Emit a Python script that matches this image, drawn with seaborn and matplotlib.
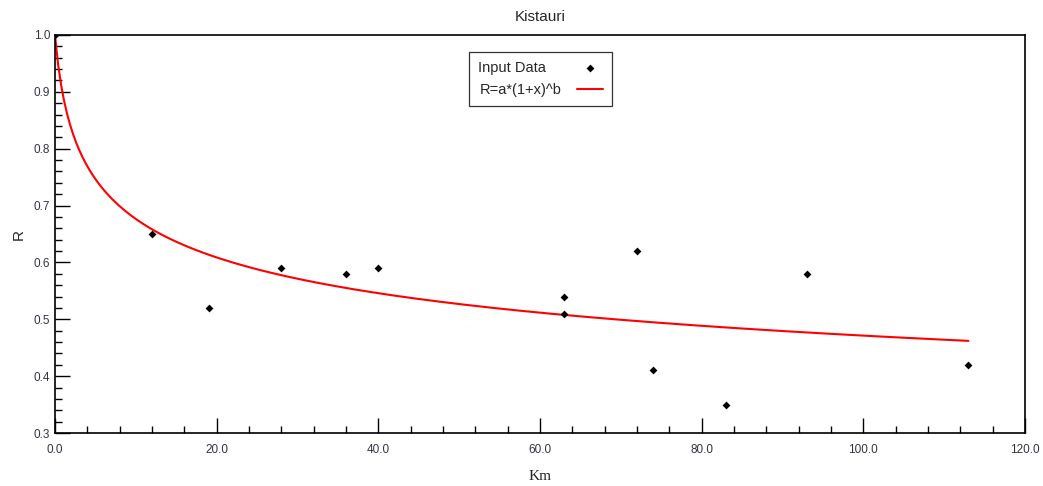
import numpy as np
import pandas as pd
import matplotlib
matplotlib.use('Agg')
import matplotlib.pyplot as plt
import seaborn as sns
from matplotlib.ticker import MultipleLocator, FormatStrFormatter

# input data
km = [0, 12, 19, 28, 36, 40, 63, 63, 72, 74, 83, 93, 113]
r_vals = [1.0, 0.65, 0.52, 0.59, 0.58, 0.59, 0.54, 0.51, 0.62, 0.41, 0.35, 0.58, 0.42]

# fitted model R = a*(1+x)^b
a_coef = 1.0
b_coef = -0.163

data = pd.DataFrame({'Km': km, 'R': r_vals})
x_fit = np.linspace(0, max(km), 300)
fit = pd.DataFrame({'Km': x_fit, 'R': a_coef * (1 + x_fit) ** b_coef})

sns.set_style('white')
plt.rcParams['font.family'] = ['Liberation Sans', 'DejaVu Sans']

fig = plt.figure(figsize=(10.43, 4.86), dpi=100)
ax = fig.add_axes([0.0527, 0.109, 0.930, 0.819])

# trailing spaces so both legend labels have the same width (keeps them left aligned)
sns.scatterplot(data=data, x='Km', y='R', ax=ax, color='black', marker='D', s=16,
                edgecolor='black', linewidth=0, label='Input Data    ', zorder=3)
sns.lineplot(data=fit, x='Km', y='R', ax=ax, color='#ff0000', linewidth=1.5,
             label='R=a*(1+x)^b', zorder=2)

ax.set_xlim(0, 120)
ax.set_ylim(0.3, 1.0)
ax.xaxis.set_major_locator(MultipleLocator(20))
ax.xaxis.set_minor_locator(MultipleLocator(4))
ax.yaxis.set_major_locator(MultipleLocator(0.1))
ax.yaxis.set_minor_locator(MultipleLocator(0.02))
ax.xaxis.set_major_formatter(FormatStrFormatter('%.1f'))
ax.yaxis.set_major_formatter(FormatStrFormatter('%.1f'))

ax.tick_params(axis='both', which='both', direction='in', colors='black',
               labelcolor='#333344', labelsize=8.5, width=1,
               bottom=True, left=True, top=False, right=False)
ax.tick_params(which='major', length=11)
ax.tick_params(which='minor', length=5)
ax.tick_params(axis='x', which='both', pad=8)

for s in ax.spines.values():
    s.set_color('black')
    s.set_linewidth(1.2)

ax.set_title('Kistauri', fontsize=11, pad=10)
ax.set_xlabel('Km', fontsize=11, family='Liberation Serif', labelpad=10)
ax.set_ylabel('R', fontsize=11, labelpad=6)

leg = ax.legend(loc='upper left', bbox_to_anchor=(0.4268, 0.957), borderaxespad=0,
                markerfirst=False, frameon=True, fancybox=False, fontsize=10.5,
                handlelength=1.8, borderpad=0.6, labelspacing=0.55, handletextpad=1.0)
leg.get_frame().set_edgecolor('black')
leg.get_frame().set_linewidth(0.9)

fig.savefig('out.png', dpi=100)
